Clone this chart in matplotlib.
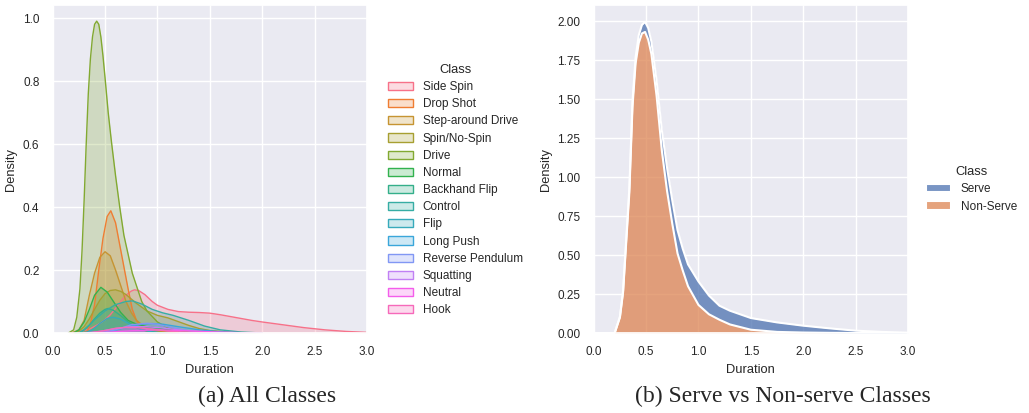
import numpy as np
import matplotlib.pyplot as plt
import seaborn as sns
from matplotlib.patches import Patch

# ---- (a) all classes: densities ----
classes = ["Side Spin", "Drop Shot", "Step-around Drive", "Spin/No-Spin", "Drive",
           "Normal", "Backhand Flip", "Control", "Flip", "Long Push",
           "Reverse Pendulum", "Squatting", "Neutral", "Hook"]

side_spin_x = [0.15, 0.25, 0.35, 0.45, 0.50, 0.55, 0.60, 0.65, 0.70, 0.75, 0.78, 0.82, 0.88, 0.95,
               1.00, 1.10, 1.20, 1.30, 1.40, 1.50, 1.60, 1.70, 1.80, 1.90, 2.00, 2.20, 2.40, 2.60, 2.80, 3.00]
side_spin_y = [0.0, 0.004, 0.012, 0.03, 0.042, 0.058, 0.078, 0.10, 0.12, 0.133, 0.137, 0.135, 0.122, 0.10,
               0.088, 0.075, 0.068, 0.066, 0.065, 0.063, 0.058, 0.052, 0.046, 0.040, 0.035, 0.026, 0.017, 0.010, 0.005, 0.002]

drop_shot_x = [0.30, 0.33, 0.36, 0.40, 0.44, 0.48, 0.52, 0.555, 0.60, 0.64, 0.68, 0.72, 0.76, 0.80, 0.85, 0.90, 1.00, 1.20]
drop_shot_y = [0.0, 0.005, 0.03, 0.09, 0.20, 0.30, 0.37, 0.388, 0.35, 0.28, 0.21, 0.14, 0.075, 0.04, 0.015, 0.005, 0.001, 0.0]

step_drive_x = [0.18, 0.25, 0.30, 0.35, 0.40, 0.45, 0.50, 0.55, 0.60, 0.65, 0.70, 0.75, 0.80, 0.90, 1.00, 1.20]
step_drive_y = [0.0, 0.01, 0.04, 0.12, 0.19, 0.24, 0.258, 0.245, 0.20, 0.15, 0.10, 0.065, 0.04, 0.015, 0.006, 0.0]

spin_x = [0.20, 0.25, 0.30, 0.35, 0.40, 0.45, 0.50, 0.55, 0.60, 0.65, 0.70, 0.75, 0.80, 0.90,
          1.00, 1.10, 1.20, 1.30, 1.40, 1.50, 1.70, 2.00]
spin_y = [0.0, 0.006, 0.02, 0.045, 0.075, 0.104, 0.125, 0.135, 0.137, 0.132, 0.122, 0.108, 0.094, 0.07,
          0.056, 0.048, 0.036, 0.024, 0.014, 0.008, 0.002, 0.0]

drive_x = [0.15, 0.20, 0.23, 0.26, 0.28, 0.30, 0.32, 0.34, 0.36, 0.38, 0.40, 0.42, 0.44, 0.46, 0.48,
           0.50, 0.53, 0.56, 0.60, 0.64, 0.68, 0.72, 0.76, 0.80, 0.85, 0.90, 1.00, 1.10, 1.20, 1.40, 1.70]
drive_y = [0.0, 0.01, 0.05, 0.14, 0.26, 0.42, 0.60, 0.76, 0.87, 0.94, 0.98, 0.99, 0.98, 0.94, 0.88,
           0.81, 0.70, 0.61, 0.50, 0.40, 0.31, 0.25, 0.19, 0.15, 0.10, 0.07, 0.035, 0.016, 0.008, 0.002, 0.0]

normal_x = [0.20, 0.25, 0.30, 0.35, 0.40, 0.46, 0.52, 0.58, 0.65, 0.72, 0.80, 0.90, 1.00, 1.20]
normal_y = [0.0, 0.01, 0.035, 0.075, 0.12, 0.145, 0.13, 0.10, 0.065, 0.04, 0.028, 0.02, 0.016, 0.006]

backhand_x = [0.25, 0.30, 0.35, 0.40, 0.45, 0.50, 0.53, 0.58, 0.65, 0.72, 0.80, 0.90, 1.00, 1.10]
backhand_y = [0.0, 0.01, 0.025, 0.045, 0.063, 0.075, 0.078, 0.072, 0.055, 0.035, 0.018, 0.007, 0.002, 0.0]

control_x = [0.25, 0.30, 0.35, 0.40, 0.50, 0.60, 0.70, 0.76, 0.85, 0.95, 1.05, 1.15, 1.30, 1.45, 1.60, 1.80, 2.00]
control_y = [0.0, 0.01, 0.025, 0.042, 0.07, 0.09, 0.10, 0.102, 0.092, 0.075, 0.064, 0.056, 0.04, 0.022, 0.01, 0.003, 0.0]

flip_x = [0.30, 0.38, 0.45, 0.52, 0.58, 0.65, 0.75, 0.85, 0.95, 1.05]
flip_y = [0.0, 0.01, 0.03, 0.046, 0.05, 0.044, 0.025, 0.01, 0.003, 0.0]

long_push_x = [0.40, 0.55, 0.70, 0.85, 0.95, 1.05, 1.20, 1.40, 1.60, 1.80]
long_push_y = [0.0, 0.005, 0.018, 0.028, 0.03, 0.028, 0.02, 0.01, 0.004, 0.0]

pendulum_x = [0.45, 0.60, 0.75, 0.90, 1.00, 1.10, 1.25, 1.40, 1.60]
pendulum_y = [0.0, 0.01, 0.026, 0.031, 0.028, 0.02, 0.01, 0.004, 0.0]

squatting_x = [0.30, 0.45, 0.60, 0.75, 0.90, 1.05, 1.20, 1.40, 1.60]
squatting_y = [0.0, 0.005, 0.014, 0.02, 0.02, 0.016, 0.01, 0.004, 0.0]

neutral_x = [0.40, 0.60, 0.80, 1.00, 1.20, 1.50, 1.80, 2.00]
neutral_y = [0.0, 0.004, 0.008, 0.01, 0.008, 0.004, 0.001, 0.0]

hook_x = [0.35, 0.50, 0.60, 0.70, 0.80, 0.95, 1.10, 1.30, 1.50]
hook_y = [0.0, 0.008, 0.015, 0.018, 0.017, 0.012, 0.006, 0.002, 0.0]

all_x = [side_spin_x, drop_shot_x, step_drive_x, spin_x, drive_x, normal_x, backhand_x,
         control_x, flip_x, long_push_x, pendulum_x, squatting_x, neutral_x, hook_x]
all_y = [side_spin_y, drop_shot_y, step_drive_y, spin_y, drive_y, normal_y, backhand_y,
         control_y, flip_y, long_push_y, pendulum_y, squatting_y, neutral_y, hook_y]

# ---- (b) serve vs non-serve, stacked ----
duration = [0.0, 0.15, 0.20, 0.25, 0.28, 0.31, 0.34, 0.37, 0.40, 0.43, 0.46, 0.49, 0.52, 0.55, 0.60, 0.65,
            0.70, 0.75, 0.80, 0.85, 0.90, 1.00, 1.10, 1.20, 1.30, 1.50, 1.75, 2.00, 2.25, 2.50, 2.75, 3.00]
non_serve = [0.0, 0.0, 0.0, 0.10, 0.26, 0.58, 0.90, 1.45, 1.73, 1.86, 1.92, 1.93, 1.88, 1.79, 1.52, 1.17,
             0.91, 0.70, 0.51, 0.40, 0.30, 0.18, 0.12, 0.085, 0.055, 0.021, 0.007, 0.003, 0.001, 0.0, 0.0, 0.0]
serve = [0.0, 0.0, 0.0, 0.005, 0.01, 0.02, 0.03, 0.035, 0.04, 0.05, 0.055, 0.065, 0.075, 0.08, 0.10, 0.13,
         0.15, 0.15, 0.15, 0.14, 0.14, 0.15, 0.12, 0.09, 0.088, 0.075, 0.061, 0.044, 0.029, 0.015, 0.007, 0.002]

sns.set_theme(style="darkgrid")
plt.rcParams["font.family"] = ["Liberation Sans", "DejaVu Sans"]
lab_fs, tick_fs = 9.3, 8.45

fig = plt.figure(figsize=(10.29, 4.13), dpi=100)
ax1 = fig.add_axes([0.0512, 0.1937, 0.3054, 0.7932])
ax2 = fig.add_axes([0.577, 0.1937, 0.3054, 0.7932])

colors = sns.color_palette("husl", len(classes))
handles = []
for xs, ys, c in zip(all_x, all_y, colors):
    ax1.fill_between(xs, 0, ys, color=c, alpha=0.25, linewidth=0)
    ax1.plot(xs, ys, color=c, lw=1.0)
    handles.append(Patch(facecolor=(*c, 0.25), edgecolor=c, linewidth=1.0))

ax1.set_xlim(0, 3)
ax1.set_ylim(0, 1.04)
ax1.set_xlabel("Duration", fontsize=lab_fs)
ax1.set_ylabel("Density", fontsize=lab_fs)
ax1.tick_params(labelsize=tick_fs)
ax1.legend(handles, classes, title="Class", loc="upper left",
           bbox_to_anchor=(388 / 1029, 1 - 64 / 413), bbox_transform=fig.transFigure,
           frameon=False, fontsize=tick_fs, title_fontsize=lab_fs, borderaxespad=0, borderpad=0,
           handlelength=2.1, handletextpad=0.85, labelspacing=0.44)

blue, orange = sns.color_palette("deep")[0], sns.color_palette("deep")[1]
x = np.array(duration)
top = np.array(non_serve) + np.array(serve)
ax2.fill_between(x, non_serve, top, color=blue, alpha=0.75, linewidth=0)
ax2.fill_between(x, 0, non_serve, color=orange, alpha=0.75, linewidth=0)
ax2.plot(x, top, color="white", lw=1.5)
ax2.plot(x, non_serve, color="white", lw=1.5)
ax2.set_xlim(0, 3)
ax2.set_ylim(0, 2.1)
ax2.set_xlabel("Duration", fontsize=lab_fs)
ax2.set_ylabel("Density", fontsize=lab_fs)
ax2.tick_params(labelsize=tick_fs)
h2 = [Patch(facecolor=(*blue, 0.75), edgecolor="white", linewidth=1.5),
      Patch(facecolor=(*orange, 0.75), edgecolor="white", linewidth=1.5)]
ax2.legend(h2, ["Serve", "Non-Serve"], title="Class", loc="upper left",
           bbox_to_anchor=(926 / 1029, 1 - 166 / 413), bbox_transform=fig.transFigure,
           frameon=False, fontsize=tick_fs, title_fontsize=lab_fs, borderaxespad=0, borderpad=0,
           handlelength=2.1, handletextpad=0.85, labelspacing=0.45)

cap = dict(ha="center", va="center", family=["Liberation Serif", "DejaVu Serif"], fontsize=17)
fig.text(267 / 1029, 1 - 396 / 413, "(a) All Classes", **cap)
fig.text(783 / 1029, 1 - 396 / 413, "(b) Serve vs Non-serve Classes", **cap)

fig.savefig("out.png", dpi=100)
